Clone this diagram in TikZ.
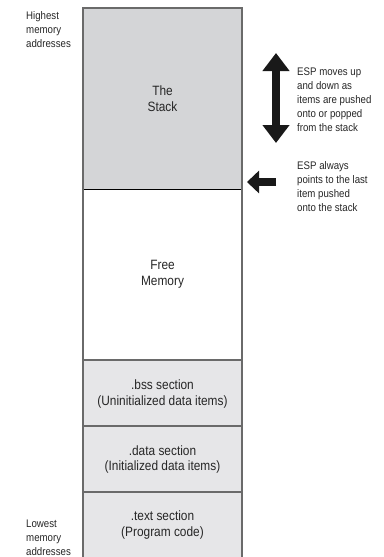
\documentclass[tikz,border=0pt]{standalone}
\usepackage{fontspec}
\setmainfont{Liberation Sans}[FakeStretch=0.88]
\usetikzlibrary{arrows.meta}
\definecolor{stackfill}{HTML}{D4D5D7}
\definecolor{secfill}{HTML}{E6E6E8}
\definecolor{edgegray}{HTML}{6A6A6A}
\tikzset{
  region/.style={draw=none},
  boxtext/.style={align=center, inner sep=0pt, text=black!85,
    font=\fontsize{13.5}{16}\selectfont},
  sidetext/.style={align=left, anchor=west, inner sep=0pt, text=black!85,
    font=\fontsize{11}{14}\selectfont},
  fatarrow/.style={line width=8.5pt, black!90},
}
\begin{document}
\begin{tikzpicture}[x=1pt, y=-1pt]
  \useasboundingbox (0,0) rectangle (383,557);
  % memory regions, top to bottom
  \fill[stackfill] (83,8) rectangle (242,189);
  \fill[white]     (83,189) rectangle (242,360);
  \fill[secfill]   (83,360) rectangle (242,560);
  % separators
  \draw[black, line width=1pt] (83,189) -- (242,189);
  \draw[edgegray, line width=1.6pt] (83,360) -- (242,360);
  \draw[edgegray, line width=1.6pt] (83,426) -- (242,426);
  \draw[edgegray, line width=1.6pt] (83,492) -- (242,492);
  % outline
  \draw[edgegray, line width=1.8pt] (83,560) -- (83,8) -- (242,8) -- (242,560);

  \node[boxtext] (stack) at (162.5,99) {The\\Stack};
  \node[boxtext] (free)  at (162.5,274.5) {Free\\Memory};
  \node[boxtext] (bss)   at (162.5,394) {.bss section\\(Uninitialized data items)};
  \node[boxtext] (data)  at (162.5,459.5) {.data section\\(Initialized data items)};
  \node[boxtext] (text)  at (162.5,525) {.text section\\(Program code)};

  \node[sidetext] (high) at (26,29.5) {Highest\\memory\\addresses};
  \node[sidetext] (low)  at (26,537.5) {Lowest\\memory\\addresses};

  \node[sidetext] (moves)  at (297,100) {ESP moves up\\and down as\\items are pushed\\onto or popped\\from the stack};
  \node[sidetext] (points) at (297,187) {ESP always\\points to the last\\item pushed\\onto the stack};

  % ESP movement and position markers
  \coordinate (upT) at (276,53);
  \coordinate (dnT) at (276,143);
  \coordinate (espTip) at (247,182);
  \coordinate (espTail) at (276,182);
  \draw[fatarrow, {Triangle[width=26pt,length=18pt]}-{Triangle[width=26pt,length=18pt]}] (upT) -- (dnT);
  \draw[fatarrow, -{Triangle[width=22pt,length=12pt]}] (espTail) -- (espTip);
\end{tikzpicture}
\end{document}
